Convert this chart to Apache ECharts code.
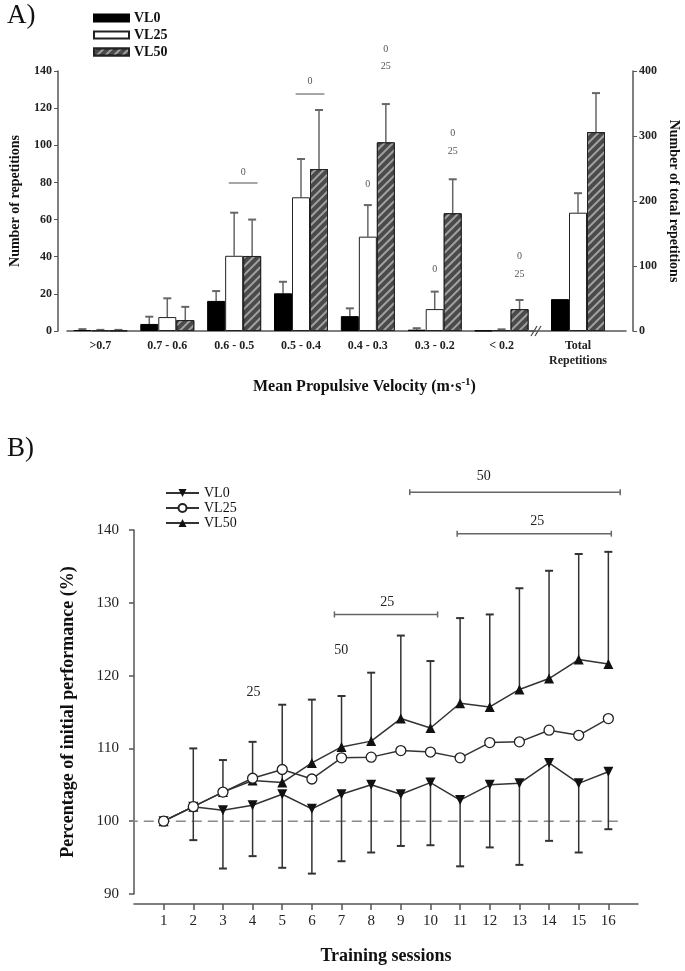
<!DOCTYPE html>
<html>
<head>
<meta charset="utf-8">
<script src="https://cdn.jsdelivr.net/npm/echarts@6/dist/echarts.min.js"></script>
<style>
  html, body { margin: 0; padding: 0; background: #fff; }
  #chartA { width: 685px; height: 430px; }
  #chartB { width: 685px; height: 541px; }
</style>
</head>
<body>
<div id="chartA"></div>
<div id="chartB"></div>
<script>
// ---- Panel A: repetitions per velocity range ----
const velocityRanges = ['>0.7', '0.7 - 0.6', '0.6 - 0.5', '0.5 - 0.4', '0.4 - 0.3', '0.3 - 0.2', '< 0.2']
const totalCategory = ['Total\nRepetitions']
const vl0Reps = [0.5, 3.8, 16.2, 20.3, 8, 0.7, 0.2]
const vl0RepsErr = [1, 7.7, 21.5, 26.5, 12.2, 1.5, null]
const vl25Reps = [0.3, 7.5, 40.5, 72, 50.8, 11.8, 0.5]
const vl25RepsErr = [0.6, 17.6, 63.7, 92.6, 67.8, 21.2, 0.9]
const vl50Reps = [0.3, 5.9, 40.4, 87.2, 101.6, 63.4, 11.8]
const vl50RepsErr = [0.6, 13, 60, 119, 122.2, 81.7, 16.7]
const totalReps = [49, 182, 306]
const totalRepsErr = [null, 212, 366]
// significance marks: [range index, group (0 VL0, 1 VL25, 2 VL50, 1.5 = VL25+VL50), value, text]
const sigTextA = [
  [2, 1.5, 85.6, '0'], [3, 1.5, 134.6, '0'],
  [4, 1, 79.2, '0'], [4, 2, 151.9, '0'], [4, 2, 142.7, '25'],
  [5, 1, 33.4, '0'], [5, 2, 106.6, '0'], [5, 2, 96.9, '25'],
  [6, 2, 40.4, '0'], [6, 2, 30.7, '25']
]
const sigLinesA = [[2, 79.7], [3, 127.6]]

// ---- Panel B: performance over sessions ----
const sessions = [1, 2, 3, 4, 5, 6, 7, 8, 9, 10, 11, 12, 13, 14, 15, 16]
const vl0Perf = [100, 102, 101.5, 102.2, 103.7, 101.7, 103.7, 105, 103.7, 105.3, 102.9, 105, 105.2, 108, 105.2, 106.8]
const vl0Low = [null, 97.4, 93.5, 95.2, 93.6, 92.8, 94.5, 95.7, 96.6, 96.7, 93.8, 96.4, 94, 97.3, 95.7, 98.9]
const vl25Perf = [100, 102, 104, 105.9, 107.1, 105.8, 108.7, 108.8, 109.7, 109.5, 108.7, 110.8, 110.9, 112.5, 111.8, 114.1]
const vl50Perf = [100, 102, 104, 105.6, 105.3, 108, 110.2, 111, 114.1, 112.8, 116.2, 115.7, 118.1, 119.6, 122.2, 121.6]
const vl50Up = [null, 110, 108.4, 110.9, 116, 116.7, 117.2, 120.4, 125.5, 122, 127.9, 128.4, 132, 134.4, 136.7, 137]
// [session, value, text]
const sigTextB = [[4.03, 117.7, '25'], [6.99, 123.5, '50'], [8.54, 130.1, '25'], [13.6, 141.2, '25'], [11.8, 147.4, '50']]
// brackets: [from session, to session, value]
const sigBracketsB = [[6.76, 10.24, 128.4], [10.9, 16.1, 139.5], [9.3, 16.4, 145.2]]
const refLine = [[-0.21, 100], [16.36, 100]]

const FONT = '"Liberation Serif", "DejaVu Serif", serif'
const BAR_W = 18
const GRID1_LEFT = 59
const GRID2_LEFT = 530

const hatch = {
  symbol: 'rect',
  symbolSize: 1,
  dashArrayX: [1, 0],
  dashArrayY: [2, 4],
  rotation: -Math.PI / 4,
  color: 'rgba(190,190,190,0.75)'
}
const barStyles = [
  { color: '#000', borderColor: '#000', borderWidth: 1 },
  { color: '#fff', borderColor: '#222', borderWidth: 1 },
  { color: '#4a4a4a', borderColor: '#222', borderWidth: 1, decal: hatch }
]

function errorBarSeries(gridIdx, slot, means, errs) {
  const data = []
  means.forEach((m, i) => {
    if (errs[i] != null) data.push([i, m, errs[i]])
  })
  return {
    type: 'custom',
    xAxisIndex: gridIdx,
    yAxisIndex: gridIdx,
    z: 1,
    silent: true,
    data: data,
    renderItem: function (params, api) {
      const base = api.coord([api.value(0), api.value(1)])
      const top = api.coord([api.value(0), api.value(2)])
      const x = base[0] + (slot - 1) * BAR_W
      return {
        type: 'group',
        children: [
          { type: 'line', shape: { x1: x, y1: base[1], x2: x, y2: top[1] }, style: { stroke: '#666', lineWidth: 1.5 } },
          { type: 'line', shape: { x1: x - 4, y1: top[1], x2: x + 4, y2: top[1] }, style: { stroke: '#666', lineWidth: 2 } }
        ]
      }
    }
  }
}

const axisLabelA = { fontFamily: FONT, fontWeight: 'bold', fontSize: 12, color: '#222' }
const axisNameA = { fontFamily: FONT, fontWeight: 'bold', fontSize: 14, color: '#111' }

const chartA = echarts.init(document.getElementById('chartA'))
chartA.setOption({
  animation: false,
  title: [
    { text: 'A)', left: 2, top: -3, textStyle: { fontFamily: FONT, fontSize: 27, fontWeight: 'normal', color: '#111' } },
    {
      text: '{a|Mean Propulsive Velocity (m·s}{s|-1}{a|)}',
      left: 248, top: 372,
      textStyle: {
        rich: {
          a: { fontFamily: FONT, fontWeight: 'bold', fontSize: 16, color: '#111' },
          s: { fontFamily: FONT, fontWeight: 'bold', fontSize: 11, color: '#111', verticalAlign: 'top', padding: [0, 0, 8, 0] }
        }
      }
    }
  ],
  legend: {
    left: 88, top: 6, orient: 'vertical',
    itemWidth: 35, itemHeight: 7, itemGap: 3, icon: 'rect',
    textStyle: { fontFamily: FONT, fontWeight: 'bold', fontSize: 14, color: '#111' },
    data: ['VL0', 'VL25', 'VL50']
  },
  grid: [
    { left: GRID1_LEFT, width: 476, top: 71, bottom: 99 },
    { left: GRID2_LEFT, right: 59, top: 71, bottom: 99 }
  ],
  xAxis: [
    {
      gridIndex: 0, type: 'category', data: velocityRanges,
      axisLine: { lineStyle: { color: '#555', width: 1.5 } },
      axisTick: { show: false },
      axisLabel: Object.assign({ margin: 9, interval: 0 }, axisLabelA)
    },
    {
      gridIndex: 1, type: 'category', data: totalCategory,
      axisLine: { lineStyle: { color: '#555', width: 1.5 } },
      axisTick: { show: false },
      axisLabel: Object.assign({ margin: 7, lineHeight: 15 }, axisLabelA)
    }
  ],
  yAxis: [
    {
      gridIndex: 0, type: 'value', min: 0, max: 140, interval: 20, offset: 9,
      axisLine: { show: true, lineStyle: { color: '#555', width: 1.5 } },
      axisTick: { show: true, length: 4, lineStyle: { color: '#555' } },
      splitLine: { show: false },
      axisLabel: Object.assign({ margin: 6 }, axisLabelA),
      name: 'Number of repetitions', nameLocation: 'middle', nameGap: 36,
      nameTextStyle: axisNameA
    },
    {
      gridIndex: 1, type: 'value', position: 'right', min: 0, max: 400, interval: 100, offset: 7,
      axisLine: { show: true, lineStyle: { color: '#555', width: 1.5 } },
      axisTick: { show: true, length: 4, lineStyle: { color: '#555' } },
      splitLine: { show: false },
      axisLabel: Object.assign({ margin: 6 }, axisLabelA),
      name: 'Number of total repetitions', nameLocation: 'middle', nameGap: 34, nameRotate: -90,
      nameTextStyle: axisNameA
    }
  ],
  series: [
    { name: 'VL0', type: 'bar', xAxisIndex: 0, yAxisIndex: 0, data: vl0Reps, barWidth: BAR_W, barGap: '0%', itemStyle: barStyles[0], z: 3 },
    { name: 'VL25', type: 'bar', xAxisIndex: 0, yAxisIndex: 0, data: vl25Reps, barWidth: BAR_W, barGap: '0%', itemStyle: barStyles[1], z: 3 },
    { name: 'VL50', type: 'bar', xAxisIndex: 0, yAxisIndex: 0, data: vl50Reps, barWidth: BAR_W, barGap: '0%', itemStyle: barStyles[2], z: 3 },
    { name: 'VL0', type: 'bar', xAxisIndex: 1, yAxisIndex: 1, data: [totalReps[0]], barWidth: BAR_W, barGap: '0%', itemStyle: barStyles[0], z: 3 },
    { name: 'VL25', type: 'bar', xAxisIndex: 1, yAxisIndex: 1, data: [totalReps[1]], barWidth: BAR_W, barGap: '0%', itemStyle: barStyles[1], z: 3 },
    { name: 'VL50', type: 'bar', xAxisIndex: 1, yAxisIndex: 1, data: [totalReps[2]], barWidth: BAR_W, barGap: '0%', itemStyle: barStyles[2], z: 3 },
    errorBarSeries(0, 0, vl0Reps, vl0RepsErr),
    errorBarSeries(0, 1, vl25Reps, vl25RepsErr),
    errorBarSeries(0, 2, vl50Reps, vl50RepsErr),
    errorBarSeries(1, 0, [totalReps[0]], [totalRepsErr[0]]),
    errorBarSeries(1, 1, [totalReps[1]], [totalRepsErr[1]]),
    errorBarSeries(1, 2, [totalReps[2]], [totalRepsErr[2]]),
    {
      // significance text and lines
      type: 'custom', xAxisIndex: 0, yAxisIndex: 0, silent: true, clip: false,
      data: sigTextA.map(d => [d[0], d[2], d[1], 0]).concat(sigLinesA.map(d => [d[0], d[1], 1.5, 1])),
      renderItem: function (params, api) {
        const p = api.coord([api.value(0), api.value(1)])
        const x = p[0] + (api.value(2) - 1) * BAR_W
        if (api.value(3) === 1) {
          return { type: 'line', shape: { x1: x - BAR_W * 0.8, y1: p[1], x2: x + BAR_W * 0.8, y2: p[1] }, style: { stroke: '#888', lineWidth: 1.5 } }
        }
        const item = sigTextA[params.dataIndex]
        return {
          type: 'text', x: x, y: p[1],
          style: { text: item[3], fontFamily: FONT, fontSize: 10, fill: '#555', align: 'center', verticalAlign: 'middle' }
        }
      }
    }
  ],
  graphic: [
    { type: 'line', shape: { x1: GRID2_LEFT + 1, y1: 336, x2: GRID2_LEFT + 7, y2: 326 }, style: { stroke: '#444', lineWidth: 1.2 } },
    { type: 'line', shape: { x1: GRID2_LEFT + 5, y1: 336, x2: GRID2_LEFT + 11, y2: 326 }, style: { stroke: '#444', lineWidth: 1.2 } }
  ]
})

// ---- Panel B ----
const axisLabelB = { fontFamily: FONT, fontSize: 15, color: '#222' }
const axisNameB = { fontFamily: FONT, fontWeight: 'bold', fontSize: 18, color: '#111' }
const LINE_COLOR = '#333'

const chartB = echarts.init(document.getElementById('chartB'))
chartB.setOption({
  animation: false,
  title: { text: 'B)', left: 2, top: 0, textStyle: { fontFamily: FONT, fontSize: 27, fontWeight: 'normal', color: '#111' } },
  legend: {
    left: 160, top: 51, orient: 'vertical',
    itemWidth: 33, itemHeight: 10, itemGap: 1,
    textStyle: { fontFamily: FONT, fontSize: 14, color: '#111' },
    data: ['VL0', 'VL25', 'VL50']
  },
  grid: { left: 134, right: 47, top: 100, bottom: 77 },
  xAxis: {
    type: 'value', min: 0, max: 17, offset: 10,
    axisLine: { lineStyle: { color: '#555', width: 1.5 } },
    axisTick: { show: true, length: 6, customValues: sessions, lineStyle: { color: '#555', width: 1.5 } },
    axisLabel: Object.assign({ margin: 10, customValues: sessions }, axisLabelB),
    splitLine: { show: false },
    name: 'Training sessions', nameLocation: 'middle', nameGap: 43,
    nameTextStyle: axisNameB
  },
  yAxis: {
    type: 'value', min: 90, max: 140, interval: 10, offset: 7,
    axisLine: { show: true, lineStyle: { color: '#555', width: 1.5 } },
    axisTick: { show: true, length: 5, lineStyle: { color: '#555', width: 1.5 } },
    axisLabel: Object.assign({ margin: 8 }, axisLabelB),
    splitLine: { show: false },
    name: 'Percentage of initial performance (%)', nameLocation: 'middle', nameGap: 50,
    nameTextStyle: axisNameB
  },
  series: [
    {
      // dashed reference line at 100 %
      type: 'line', data: refLine, symbol: 'none', silent: true, clip: false, z: 0,
      lineStyle: { color: '#888', width: 1.5, type: [10, 6] }
    },
    {
      type: 'custom', silent: true, z: 1,
      data: sessions.map((s, i) => [s, vl0Perf[i], vl0Low[i]]).filter(d => d[2] != null)
        .concat(sessions.map((s, i) => [s, vl50Perf[i], vl50Up[i]]).filter(d => d[2] != null)),
      renderItem: function (params, api) {
        const a = api.coord([api.value(0), api.value(1)])
        const b = api.coord([api.value(0), api.value(2)])
        return {
          type: 'group',
          children: [
            { type: 'line', shape: { x1: a[0], y1: a[1], x2: b[0], y2: b[1] }, style: { stroke: LINE_COLOR, lineWidth: 1.5 } },
            { type: 'line', shape: { x1: b[0] - 4, y1: b[1], x2: b[0] + 4, y2: b[1] }, style: { stroke: LINE_COLOR, lineWidth: 2 } }
          ]
        }
      }
    },
    {
      name: 'VL0', type: 'line', data: sessions.map((s, i) => [s, vl0Perf[i]]), z: 3,
      symbol: 'triangle', symbolRotate: 180, symbolSize: 10,
      itemStyle: { color: '#111' }, lineStyle: { color: LINE_COLOR, width: 1.5 }
    },
    {
      name: 'VL25', type: 'line', data: sessions.map((s, i) => [s, vl25Perf[i]]), z: 4,
      symbol: 'circle', symbolSize: 10,
      itemStyle: { color: '#fff', borderColor: '#222', borderWidth: 1.3 }, lineStyle: { color: LINE_COLOR, width: 1.5 }
    },
    {
      name: 'VL50', type: 'line', data: sessions.map((s, i) => [s, vl50Perf[i]]), z: 3,
      symbol: 'triangle', symbolSize: 10,
      itemStyle: { color: '#111' }, lineStyle: { color: LINE_COLOR, width: 1.5 }
    },
    {
      // significance brackets and labels
      type: 'custom', silent: true, clip: false, z: 2,
      data: sigBracketsB.map(d => [d[0], d[2], d[1], 1]).concat(sigTextB.map(d => [d[0], d[1], 0, 0])),
      renderItem: function (params, api) {
        const p = api.coord([api.value(0), api.value(1)])
        if (api.value(3) === 1) {
          const q = api.coord([api.value(2), api.value(1)])
          return {
            type: 'group',
            children: [
              { type: 'line', shape: { x1: p[0], y1: p[1], x2: q[0], y2: q[1] }, style: { stroke: '#666', lineWidth: 1.5 } },
              { type: 'line', shape: { x1: p[0], y1: p[1] - 3, x2: p[0], y2: p[1] + 3 }, style: { stroke: '#666', lineWidth: 1.5 } },
              { type: 'line', shape: { x1: q[0], y1: q[1] - 3, x2: q[0], y2: q[1] + 3 }, style: { stroke: '#666', lineWidth: 1.5 } }
            ]
          }
        }
        const item = sigTextB[params.dataIndex - sigBracketsB.length]
        return {
          type: 'text', x: p[0], y: p[1],
          style: { text: item[2], fontFamily: FONT, fontSize: 14, fill: '#222', align: 'center', verticalAlign: 'middle' }
        }
      }
    }
  ]
})
</script>
</body>
</html>
